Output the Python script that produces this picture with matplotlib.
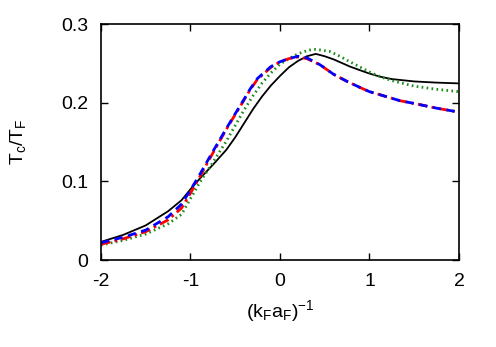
import matplotlib
matplotlib.use("Agg")
import matplotlib.pyplot as plt

plt.rcParams['font.family'] = ['Liberation Sans', 'DejaVu Sans']
plt.rcParams['mathtext.fontset'] = 'custom'
plt.rcParams['mathtext.rm'] = 'Liberation Sans'
plt.rcParams['mathtext.it'] = 'Liberation Sans'

# values
x_black = [-2.0, -1.75, -1.5, -1.25, -1.1, -1.0, -0.9, -0.75, -0.6, -0.5, -0.4, -0.3,
           -0.2, -0.1, 0.0, 0.1, 0.2, 0.3, 0.4, 0.5, 0.6, 0.78, 0.9, 1.0, 1.12,
           1.25, 1.5, 1.75, 2.0]
tc_black = [0.023, 0.032, 0.044, 0.062, 0.076, 0.090, 0.103, 0.121, 0.140, 0.156, 0.174, 0.192,
            0.208, 0.222, 0.234, 0.245, 0.253, 0.259, 0.262, 0.259, 0.255, 0.246, 0.241, 0.237, 0.233,
            0.230, 0.227, 0.2255, 0.2245]

x_green = [-2.0, -1.75, -1.5, -1.25, -1.1, -1.0, -0.9, -0.75, -0.6, -0.5, -0.4, -0.3,
           -0.2, -0.1, 0.0, 0.1, 0.2, 0.3, 0.37, 0.45, 0.56, 0.67, 0.78, 0.9, 1.0, 1.12,
           1.25, 1.5, 1.75, 2.0]
tc_green = [0.019, 0.025, 0.033, 0.046, 0.058, 0.078, 0.098, 0.124, 0.151, 0.171, 0.191, 0.209,
            0.225, 0.238, 0.249, 0.256, 0.262, 0.266, 0.268, 0.267, 0.265, 0.259, 0.252, 0.245, 0.239, 0.233,
            0.228, 0.221, 0.217, 0.214]

x_red = [-2.0, -1.75, -1.5, -1.25, -1.1, -1.0, -0.9, -0.75, -0.6, -0.5, -0.43, -0.33,
         -0.25, -0.1, 0.0, 0.1, 0.2, 0.3, 0.45, 0.6, 0.75, 0.9, 1.0, 1.12, 1.34,
         1.5, 1.75, 2.0]
tc_red = [0.020, 0.027, 0.036, 0.051, 0.066, 0.085, 0.105, 0.136, 0.166, 0.185, 0.198, 0.217,
          0.230, 0.245, 0.252, 0.256, 0.258, 0.256, 0.248, 0.236, 0.227, 0.219, 0.214, 0.210, 0.2025,
          0.199, 0.193, 0.188]

x_blue = [-2.0, -1.75, -1.5, -1.25, -1.1, -1.0, -0.9, -0.75, -0.6, -0.5, -0.43, -0.33,
          -0.25, -0.1, 0.0, 0.1, 0.2, 0.3, 0.45, 0.6, 0.75, 0.9, 1.0, 1.12, 1.34,
          1.5, 1.75, 2.0]
tc_blue = [0.022, 0.029, 0.038, 0.055, 0.071, 0.089, 0.108, 0.138, 0.167, 0.186, 0.199, 0.218,
           0.231, 0.246, 0.252, 0.256, 0.259, 0.257, 0.248, 0.236, 0.227, 0.219, 0.214, 0.210, 0.2025,
           0.199, 0.193, 0.188]

xticks = [-2, -1, 0, 1, 2]
yticks = [0, 0.1, 0.2, 0.3]
yticklabels = ['0', '0.1', '0.2', '0.3']

fig = plt.figure(figsize=(4.96, 3.47), dpi=100)
ax = fig.add_axes([0.2036, 0.2507, 0.7218, 0.6801])

ax.plot(x_black, tc_black, color='black', lw=1.3, ls='-')
ax.plot(x_green, tc_green, color='#1e8c1e', lw=2.0, ls=(0, (0.6, 1.2)))
ax.plot(x_red, tc_red, color='#ff0000', lw=2.0, ls=(0, (3.5, 1.5, 1, 1.5)))
ax.plot(x_blue, tc_blue, color='#0000ff', lw=2.0, ls=(0, (3, 2)))

ax.set_xlim(-2, 2)
ax.set_ylim(0, 0.3)
ax.set_xticks(xticks)
ax.set_xticklabels([str(t) for t in xticks])
ax.set_yticks(yticks)
ax.set_yticklabels(yticklabels)
ax.tick_params(direction='in', top=True, right=True, length=5, width=1,
               labelsize=14, pad=9)
for s in ax.spines.values():
    s.set_linewidth(1.2)

ax.set_xlabel(r'(k$_\mathrm{F}$a$_\mathrm{F}$)$^{\mathrm{-1}}$', fontsize=14, labelpad=6)
ax.set_ylabel(r'T$_\mathrm{c}$/T$_\mathrm{F}$', fontsize=14, labelpad=24)

fig.savefig('out.png', dpi=100)
